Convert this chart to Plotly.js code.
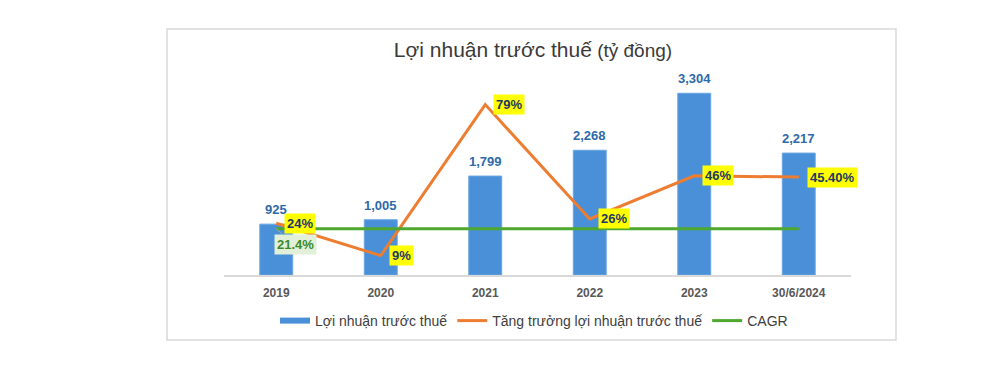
<!DOCTYPE html>
<html>
<head>
<meta charset="utf-8">
<script src="https://cdn.plot.ly/plotly-3.0.1.min.js"></script>
<style>
html,body{margin:0;padding:0;background:#fff;}
#chart{width:1004px;height:365px;}
</style>
</head>
<body>
<div id="chart"></div>
<script>
const categories = ["2019", "2020", "2021", "2022", "2023", "30/6/2024"];
const profit = [925, 1005, 1799, 2268, 3304, 2217];
const profitLabels = ["925", "1,005", "1,799", "2,268", "3,304", "2,217"];
const growth = [0.24, 0.09, 0.79, 0.26, 0.46, 0.454];
const growthLabels = ["24%", "9%", "79%", "26%", "46%", "45.40%"];
const cagr = [0.214, 0.214, 0.214, 0.214, 0.214, 0.214];
const cagrLabel = "21.4%";

const FONT = "Liberation Sans, Arial, sans-serif";
const BLUE = "#4A90D9";
const ORANGE = "#ED7D31";
const GREEN = "#4EA72E";

// plot area in px: x 224..851, y 55..275
const L = 224, R = 851, T = 55, B = 275;
const px = v => (v - L) / (R - L);
const py = v => (B - v) / (B - T);

const traces = [
  {
    type: "bar", x: categories, y: profit, name: "Lợi nhuận trước thuế",
    marker: {color: BLUE, line: {color: "#6AA6E3", width: 1}},
    showlegend: false, hoverinfo: "skip"
  },
  {
    type: "scatter", mode: "lines", x: [categories[0]], y: [null],
    name: "Lợi nhuận trước thuế", line: {color: BLUE, width: 6}, hoverinfo: "skip"
  },
  {
    type: "scatter", mode: "lines", x: categories, y: growth, yaxis: "y2",
    name: "Tăng trưởng lợi nhuận trước thuế", line: {color: ORANGE, width: 3}, hoverinfo: "skip"
  },
  {
    type: "scatter", mode: "lines", x: categories, y: cagr, yaxis: "y2",
    name: "CAGR", line: {color: GREEN, width: 3}, hoverinfo: "skip"
  }
];

// category axes: annotations are positioned by category index
const annotations = [];
categories.forEach((c, i) => {
  annotations.push({
    x: i, y: profit[i], xref: "x", yref: "y", text: profitLabels[i],
    showarrow: false, yanchor: "bottom", yshift: 5,
    font: {family: FONT, size: 13, color: "#2E6AA8", weight: "bold"}
  });
  annotations.push({
    x: i, y: growth[i], xref: "x", yref: "y2", text: growthLabels[i],
    showarrow: false, xanchor: "left", yanchor: "middle", xshift: 8,
    bgcolor: "#FFFF00", borderpad: 2,
    font: {family: FONT, size: 13, color: "#1F3864", weight: "bold"}
  });
});
annotations.push({
  x: 0, y: cagr[0], xref: "x", yref: "y2", text: cagrLabel,
  showarrow: true, arrowhead: 0, arrowwidth: 1, arrowcolor: "#A6A6A6",
  ax: 19, ay: 16, standoff: 0, bgcolor: "#E2F0D9", borderpad: 2,
  font: {family: FONT, size: 13, color: "#3B8A2A", weight: "bold"}
});

const layout = {
  width: 1004, height: 365,
  margin: {l: L, r: 1004 - R, t: T, b: 365 - B},
  paper_bgcolor: "#fff", plot_bgcolor: "rgba(0,0,0,0)",
  font: {family: FONT, color: "#404040"},
  title: {
    text: 'Lợi nhuận trước thuế<span style="font-size:19px"> (tỷ đồng)</span>',
    font: {family: FONT, size: 21, color: "#3A3A3A"},
    xref: "container", yref: "container", x: 533 / 1004, xanchor: "center",
    y: 1 - 50 / 365, yanchor: "middle"
  },
  bargap: 0.685,
  xaxis: {
    type: "category", categoryorder: "array", categoryarray: categories,
    range: [-0.5, categories.length - 0.5], autorange: false,
    showgrid: false, zeroline: false,
    showline: true, linecolor: "#D9D9D9", linewidth: 1.5,
    ticks: "", tickfont: {family: FONT, size: 12, color: "#595959", weight: "bold"},
    ticklabelstandoff: 6, fixedrange: true
  },
  yaxis: {range: [0, 4000], autorange: false, visible: false, showgrid: false, zeroline: false, fixedrange: true},
  yaxis2: {range: [0, 1.02], autorange: false, overlaying: "y", side: "right", visible: false,
           showgrid: false, zeroline: false, fixedrange: true},
  showlegend: true,
  legend: {
    orientation: "h", x: px(534), xanchor: "center", y: py(321), yanchor: "middle",
    font: {family: FONT, size: 14, color: "#404040"}, traceorder: "normal",
    itemwidth: 30, bgcolor: "rgba(0,0,0,0)"
  },
  annotations: annotations,
  shapes: [{
    type: "rect", xref: "paper", yref: "paper",
    x0: px(167), x1: px(896), y0: py(340), y1: py(29),
    line: {color: "#D9D9D9", width: 1.5}, fillcolor: "rgba(0,0,0,0)", layer: "below"
  }],
  hovermode: false
};

Plotly.newPlot("chart", traces, layout, {displayModeBar: false, staticPlot: true});
</script>
</body>
</html>
